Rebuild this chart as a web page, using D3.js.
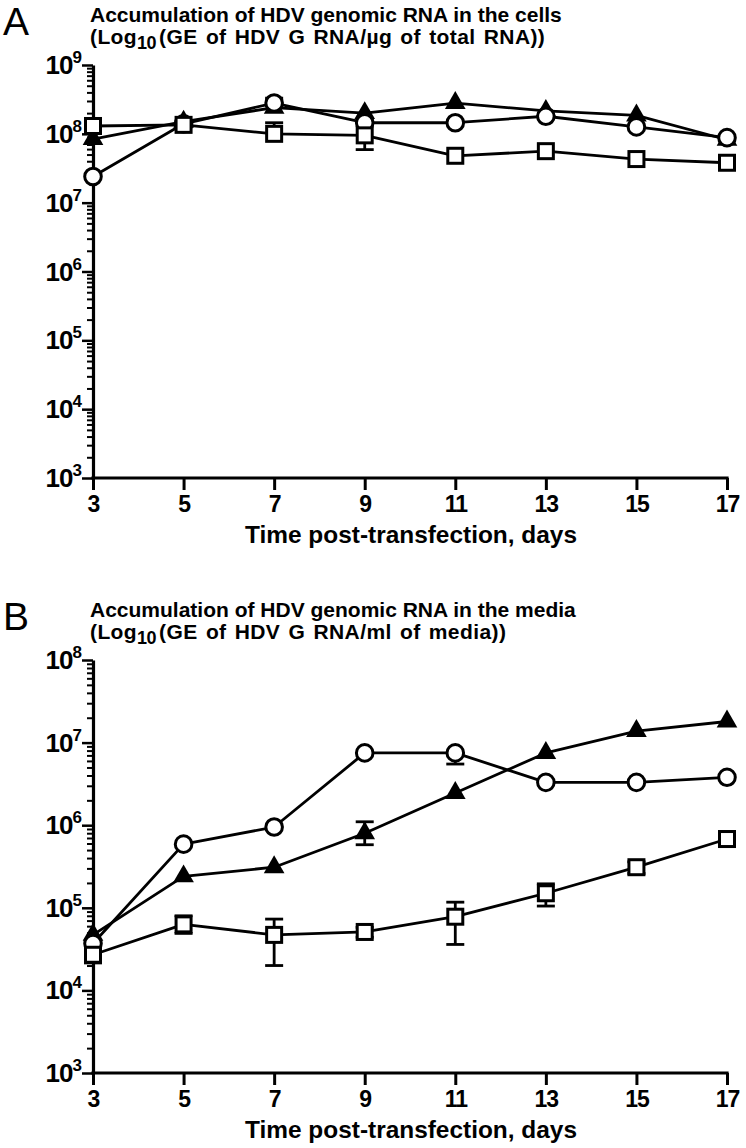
<!DOCTYPE html>
<html>
<head>
<meta charset="utf-8">
<script src="https://cdn.jsdelivr.net/npm/d3@7"></script>
<style>
  html, body { margin: 0; padding: 0; background: #fff; }
  svg { display: block; }
</style>
</head>
<body>
<svg id="chart" width="746" height="1148"></svg>
<script>
// ---------------- DATA ----------------
const days = [3, 5, 7, 9, 11, 13, 15, 17];

// Panel A: genomic RNA in cells (GE / µg total RNA)
const cellsSquare   = [1.3e8, 1.35e8, 1.0e8, 0.95e8, 4.8e7, 5.6e7, 4.3e7, 3.8e7];
const cellsCircle   = [2.4e7, 1.4e8, 2.8e8, 1.45e8, 1.45e8, 1.8e8, 1.26e8, 8.8e7];
const cellsTriangle = [8.4e7, 1.5e8, 2.4e8, 2.0e8, 2.8e8, 2.15e8, 1.85e8, 8.2e7];
const cellsSquareLo   = [null, null, null, 5.9e7, null, null, null, null];
const cellsSquareHi   = [null, null, 1.45e8, null, null, null, null, null];
const cellsCircleLo   = [null, null, null, null, null, null, null, null];
const cellsCircleHi   = [null, null, 3.3e8, null, null, null, null, null];
const cellsTriangleLo = [null, null, null, null, null, null, null, null];
const cellsTriangleHi = [null, null, null, null, null, null, null, null];

// Panel B: genomic RNA in media (GE / ml media)
const mediaSquare   = [2.7e4, 6.3e4, 4.7e4, 5.1e4, 7.8e4, 1.5e5, 3.1e5, 6.8e5];
const mediaCircle   = [3.7e4, 5.9e5, 9.5e5, 7.5e6, 7.5e6, 3.3e6, 3.3e6, 3.8e6];
const mediaTriangle = [4.7e4, 2.4e5, 3.1e5, 8.0e5, 2.45e6, 7.5e6, 1.38e7, 1.8e7];
const mediaSquareLo   = [2.15e4, 4.9e4, 2.0e4, 4.4e4, 3.6e4, 1.05e5, 2.6e5, 5.6e5];
const mediaSquareHi   = [3.2e4, 8.0e4, 7.3e4, 5.8e4, 1.17e5, 1.95e5, 3.6e5, 8.3e5];
const mediaCircleLo   = [null, null, null, null, 5.5e6, null, null, null];
const mediaCircleHi   = [null, null, null, null, null, null, null, null];
const mediaTriangleLo = [null, null, null, 5.8e5, null, null, null, null];
const mediaTriangleHi = [null, null, null, 1.1e6, null, null, null, null];

const xTickValues = [3, 5, 7, 9, 11, 13, 15, 17];
const yTicksA = [1e3, 1e4, 1e5, 1e6, 1e7, 1e8, 1e9];
const yTicksB = [1e3, 1e4, 1e5, 1e6, 1e7, 1e8];

const titleA1 = "Accumulation of HDV genomic RNA in the cells";
const titleA2 = ["(Log", "10", "(GE of HDV G RNA/\u00B5g of total RNA))"];
const titleB1 = "Accumulation of HDV genomic RNA in the media";
const titleB2 = ["(Log", "10", "(GE of HDV G RNA/ml of media))"];
const xTitle = "Time post-transfection, days";

// ---------------- DRAW ----------------
const svg = d3.select("#chart");
svg.append("rect").attr("width", 746).attr("height", 1148).attr("fill", "#fff");

const FONT = "'Liberation Sans', Arial, Helvetica, sans-serif";

function panel(cfg) {
  const g = svg.append("g");
  const x = d3.scaleLinear().domain([3, 17]).range([93, 727]);
  const y = d3.scaleLog().domain(cfg.domain).range([cfg.bottom, cfg.top]);

  // Panel letter
  g.append("text").attr("x", 3).attr("y", cfg.top - 30)
    .attr("font-family", FONT).attr("font-size", 39).attr("fill", "#000")
    .text(cfg.letter);

  // Title
  g.append("text").attr("x", 90).attr("y", cfg.top - 43)
    .attr("font-family", FONT).attr("font-weight", "bold").attr("font-size", 21)
    .text(cfg.title1);
  const t2 = g.append("text").attr("x", 90).attr("y", cfg.top - 21)
    .attr("font-family", FONT).attr("font-weight", "bold").attr("font-size", 21)
    .attr("word-spacing", 2).attr("letter-spacing", 0.4);
  t2.append("tspan").text(cfg.title2[0]);
  t2.append("tspan").attr("font-size", 18).attr("dy", 5).attr("letter-spacing", -0.5).text(cfg.title2[1]);
  t2.append("tspan").attr("dy", -5).attr("dx", 3).text(cfg.title2[2]);

  // Minor ticks (log)
  const minor = [];
  const [lo, hi] = cfg.domain;
  for (let e = Math.log10(lo); e < Math.log10(hi); e++) {
    for (let m = 2; m <= 9; m++) minor.push(m * Math.pow(10, e));
  }
  const yMinor = g.append("g").attr("transform", "translate(93,0)")
    .call(d3.axisLeft(y).tickValues(minor).tickSize(6).tickSizeOuter(0).tickFormat(""));
  yMinor.select(".domain").remove();
  yMinor.selectAll("line").attr("stroke", "#000").attr("stroke-width", 2);

  // Major y axis
  const yAx = g.append("g").attr("transform", "translate(93,0)")
    .call(d3.axisLeft(y).tickValues(cfg.yTicks).tickSize(11).tickSizeOuter(0).tickPadding(1));
  yAx.select(".domain").attr("stroke", "#000").attr("stroke-width", 3.2);
  yAx.selectAll("line").attr("stroke", "#000").attr("stroke-width", 2.5);
  yAx.selectAll("text").each(function(d) {
    const t = d3.select(this);
    t.text(null).attr("font-family", FONT).attr("font-weight", "bold")
      .attr("font-size", 26).attr("fill", "#000").attr("dy", "0.33em")
      .attr("letter-spacing", -1);
    t.append("tspan").text("10");
    t.append("tspan").attr("font-size", 17).attr("dy", -11).text(Math.round(Math.log10(d)));
  });

  // X axis
  const xAx = g.append("g").attr("transform", `translate(0,${cfg.bottom})`)
    .call(d3.axisBottom(x).tickValues(xTickValues).tickSize(12).tickSizeOuter(0).tickPadding(6));
  xAx.select(".domain").attr("stroke", "#000").attr("stroke-width", 3.2)
    .attr("d", `M91.4,0H${728.6}`);
  xAx.selectAll("line").attr("stroke", "#000").attr("stroke-width", 3);
  xAx.selectAll("text").attr("font-family", FONT).attr("font-weight", "bold")
    .attr("font-size", 23).attr("fill", "#000").attr("letter-spacing", -1);

  // X title
  g.append("text").attr("x", 245).attr("y", cfg.bottom + 65)
    .attr("font-family", FONT).attr("font-weight", "bold").attr("font-size", 24)
    .attr("textLength", 332).attr("lengthAdjust", "spacingAndGlyphs")
    .text(xTitle);

  const line = d3.line().x((d, i) => x(days[i])).y(d => y(d));
  const series = cfg.series;

  // lines
  series.forEach(s => {
    g.append("path").attr("d", line(s.values)).attr("fill", "none")
      .attr("stroke", "#000").attr("stroke-width", 2.8).attr("stroke-linejoin", "round");
  });

  // error bars
  series.forEach(s => {
    s.values.forEach((v, i) => {
      [s.lo[i], s.hi[i]].forEach(e => {
        if (e == null) return;
        const eb = g.append("g").attr("stroke", "#000").attr("stroke-width", 2.8);
        eb.append("line").attr("x1", x(days[i])).attr("x2", x(days[i]))
          .attr("y1", y(v)).attr("y2", y(e));
        eb.append("line").attr("x1", x(days[i]) - 9).attr("x2", x(days[i]) + 9)
          .attr("y1", y(e)).attr("y2", y(e));
      });
    });
  });

  // markers
  series.forEach(s => {
    s.values.forEach((v, i) => {
      const cx = x(days[i]), cy = y(v);
      if (s.shape === "triangle") {
        g.append("path").attr("d", d3.symbol(d3.symbolTriangle, 185)())
          .attr("transform", `translate(${cx},${cy})`).attr("fill", "#000");
      } else if (s.shape === "circle") {
        g.append("circle").attr("cx", cx).attr("cy", cy).attr("r", 8.3)
          .attr("fill", "#fff").attr("stroke", "#000").attr("stroke-width", 3);
      } else {
        g.append("rect").attr("x", cx - 7.5).attr("y", cy - 7.5).attr("width", 15).attr("height", 15)
          .attr("fill", "#fff").attr("stroke", "#000").attr("stroke-width", 3);
      }
    });
  });
}

panel({
  letter: "A", top: 65, bottom: 478, domain: [1e3, 1e9], yTicks: yTicksA,
  title1: titleA1, title2: titleA2,
  series: [
    { shape: "triangle", values: cellsTriangle, lo: cellsTriangleLo, hi: cellsTriangleHi },
    { shape: "circle", values: cellsCircle, lo: cellsCircleLo, hi: cellsCircleHi },
    { shape: "square", values: cellsSquare, lo: cellsSquareLo, hi: cellsSquareHi }
  ]
});

panel({
  letter: "B", top: 660, bottom: 1073, domain: [1e3, 1e8], yTicks: yTicksB,
  title1: titleB1, title2: titleB2,
  series: [
    { shape: "triangle", values: mediaTriangle, lo: mediaTriangleLo, hi: mediaTriangleHi },
    { shape: "circle", values: mediaCircle, lo: mediaCircleLo, hi: mediaCircleHi },
    { shape: "square", values: mediaSquare, lo: mediaSquareLo, hi: mediaSquareHi }
  ]
});
</script>
</body>
</html>
